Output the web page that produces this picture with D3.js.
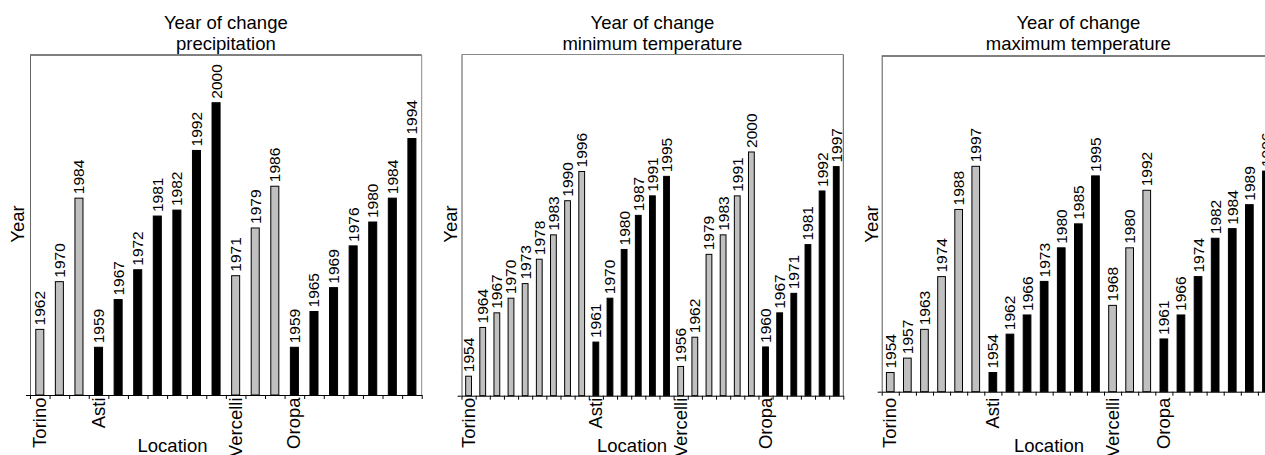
<!DOCTYPE html>
<html>
<head>
<meta charset="utf-8">
<script src="https://cdn.jsdelivr.net/npm/d3@7/dist/d3.min.js"></script>
<style>
  html, body { margin: 0; padding: 0; background: #fff; }
  svg { display: block; font-family: "Liberation Sans", Arial, sans-serif; }
</style>
</head>
<body>
<svg id="chart" width="1265" height="455"></svg>
<script>
// Station order along the x axis
const locations = ["Torino", "Asti", "Vercelli", "Oropa"];

// Year of change, precipitation
const precipTorino   = [1962, 1970, 1984];
const precipAsti     = [1959, 1967, 1972, 1981, 1982, 1992, 2000];
const precipVercelli = [1971, 1979, 1986];
const precipOropa    = [1959, 1965, 1969, 1976, 1980, 1984, 1994];

// Year of change, minimum temperature
const tminTorino   = [1954, 1964, 1967, 1970, 1973, 1978, 1983, 1990, 1996];
const tminAsti     = [1961, 1970, 1980, 1987, 1991, 1995];
const tminVercelli = [1956, 1962, 1979, 1983, 1991, 2000];
const tminOropa    = [1960, 1967, 1971, 1981, 1992, 1997];

// Year of change, maximum temperature
const tmaxTorino   = [1954, 1957, 1963, 1974, 1988, 1997];
const tmaxAsti     = [1954, 1962, 1966, 1973, 1980, 1985, 1995];
const tmaxVercelli = [1968, 1980, 1992];
const tmaxOropa    = [1961, 1966, 1974, 1982, 1984, 1989, 1996];

// Bar fill per station
const locationFill = ["#c0c0c0", "#000000", "#c0c0c0", "#000000"];

const panels = [
  { sub: "precipitation", series: [precipTorino, precipAsti, precipVercelli, precipOropa],
    left: 30, right: 421.7, top: 55, bottom: 395, yDomain: [1951, 2008], pad: 0.59,
    yLabelX: 23.5, locX: 172.5, catOffset: 2.5, topColor: "#000", sideColor: "#666", rightColor: "#888" },
  { sub: "minimum temperature", series: [tminTorino, tminAsti, tminVercelli, tminOropa],
    left: 461.5, right: 843.3, top: 54.5, bottom: 395.7, yDomain: [1950, 2020], pad: 0.59,
    yLabelX: 456.5, locX: 632, catOffset: 2, topColor: "#888", sideColor: "#555", rightColor: "#555" },
  { sub: "maximum temperature", series: [tmaxTorino, tmaxAsti, tmaxVercelli, tmaxOropa],
    left: 881.7, right: 1275, top: 56, bottom: 391.7, yDomain: [1950, 2020], pad: 0.55,
    yLabelX: 878.3, locX: 1049, catOffset: 6, topColor: "#000", sideColor: "#555", rightColor: "#555" }
];

const svg = d3.select("#chart");

panels.forEach(p => {
  // flatten series into bars, remembering where each station starts
  const bars = [];
  const starts = [];
  p.series.forEach((vals, li) => {
    starts.push(bars.length);
    vals.forEach(v => bars.push({ loc: li, year: v }));
  });
  const n = bars.length;

  const x = d3.scaleBand()
    .domain(d3.range(n))
    .range([p.left, p.right])
    .paddingInner(p.pad)
    .paddingOuter(p.pad / 2);
  const xTicks = d3.scaleLinear().domain([0, n]).range([p.left, p.right]);
  const y = d3.scaleLinear().domain(p.yDomain).range([p.bottom, p.top]);

  const g = svg.append("g");

  // frame: top and right edges
  g.append("line")
    .attr("x1", p.left).attr("x2", p.right)
    .attr("y1", p.top).attr("y2", p.top)
    .attr("stroke", p.topColor).attr("stroke-width", 1);
  g.append("line")
    .attr("x1", p.right).attr("x2", p.right)
    .attr("y1", p.top).attr("y2", p.bottom)
    .attr("stroke", p.rightColor).attr("stroke-width", 1);

  // bars
  g.selectAll("rect.bar").data(bars).join("rect")
    .attr("class", "bar")
    .attr("x", (d, i) => x(i))
    .attr("width", x.bandwidth())
    .attr("y", d => y(d.year))
    .attr("height", d => p.bottom - y(d.year))
    .attr("fill", d => locationFill[d.loc])
    .attr("stroke", "#000")
    .attr("stroke-width", 1);

  // value labels above bars
  g.selectAll("text.val").data(bars).join("text")
    .attr("class", "val")
    .attr("transform", (d, i) => `translate(${x(i) + x.bandwidth() / 2},${y(d.year) - 4}) rotate(-90)`)
    .attr("dy", 5.5)
    .attr("text-anchor", "start")
    .attr("font-size", "15.5px")
    .attr("fill", "#000")
    .text(d => d.year);

  // y axis (left edge, single tick at the base)
  g.append("g")
    .attr("transform", `translate(${p.left},0)`)
    .call(d3.axisLeft(y).tickValues([p.yDomain[0]]).tickSize(4).tickSizeOuter(0).tickFormat(""))
    .call(a => a.select(".domain").attr("stroke", p.sideColor));

  // x axis with ticks at band boundaries
  g.append("g")
    .attr("transform", `translate(0,${p.bottom})`)
    .call(d3.axisBottom(xTicks).tickValues(d3.range(n + 1)).tickSize(4).tickSizeOuter(0).tickFormat(""))
    .call(a => a.select(".domain").attr("stroke", "#000"));

  // station names under the first bar of each station
  g.selectAll("text.loc").data(locations).join("text")
    .attr("class", "loc")
    .attr("transform", (d, i) => `translate(${x(starts[i]) + x.bandwidth() / 2},${p.bottom + p.catOffset}) rotate(-90)`)
    .attr("dy", 6)
    .attr("text-anchor", "end")
    .attr("font-size", "18.5px")
    .text(d => d);

  // titles
  const cx = (p.left + p.right) / 2;
  g.append("text").attr("x", cx).attr("y", 28.5)
    .attr("text-anchor", "middle").attr("font-size", "18.5px").text("Year of change");
  g.append("text").attr("x", cx).attr("y", 49.5)
    .attr("text-anchor", "middle").attr("font-size", "18.5px").text(p.sub);

  // axis titles
  g.append("text")
    .attr("transform", `translate(${p.yLabelX},224) rotate(-90)`)
    .attr("text-anchor", "middle").attr("font-size", "18.5px").text("Year");
  g.append("text").attr("x", p.locX).attr("y", 451.5)
    .attr("text-anchor", "middle").attr("font-size", "18.5px").text("Location");
});
</script>
</body>
</html>
